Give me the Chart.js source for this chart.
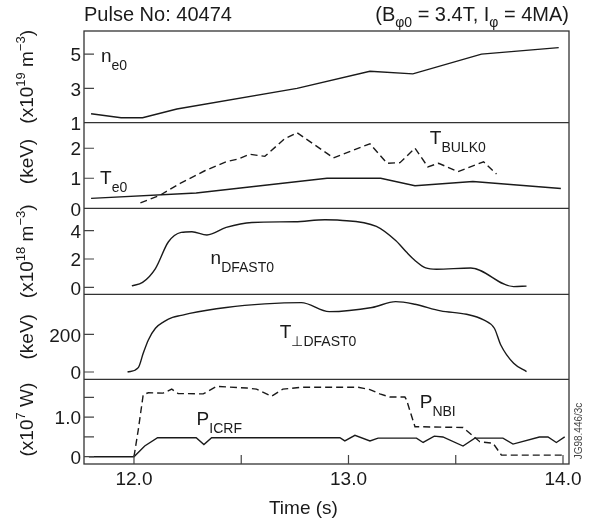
<!DOCTYPE html>
<html>
<head>
<meta charset="utf-8">
<script src="https://cdn.jsdelivr.net/npm/chart.js@4/dist/chart.umd.min.js"></script>
<style>
  html, body { margin: 0; padding: 0; background: #fff; }
  canvas { display: block; }
</style>
</head>
<body>
<canvas id="pulse" width="592" height="526"></canvas>
<script>
// central electron density (x10^19 m^-3)
const neTime = [11.80, 11.94, 12.04, 12.20, 12.76, 13.10, 13.30, 13.62, 13.98];
const neVal  = [1.52, 1.29, 1.29, 1.80, 3.00, 4.00, 3.85, 5.00, 5.38];

// central electron temperature (keV)
const teTime = [11.80, 12.29, 12.90, 13.15, 13.31, 13.58, 13.99];
const teVal  = [0.33, 0.51, 1.00, 1.00, 0.75, 0.89, 0.66];

// bulk ion temperature (keV), dashed
const bulkTime = [12.03, 12.12, 12.22, 12.33, 12.43, 12.49, 12.54, 12.61, 12.70, 12.76, 12.93, 13.10, 13.18, 13.24, 13.31, 13.37, 13.42, 13.51, 13.63, 13.69];
const bulkVal  = [0.18, 0.43, 0.85, 1.25, 1.55, 1.65, 1.80, 1.73, 2.30, 2.52, 1.68, 2.15, 1.50, 1.52, 2.00, 1.38, 1.50, 1.22, 1.55, 1.14];

// fast deuterium density (x10^18 m^-3)
const ndTime = [11.99, 12.04, 12.10, 12.16, 12.22, 12.27, 12.34, 12.43, 12.55, 12.75, 12.89, 12.96, 13.13, 13.22, 13.27, 13.31, 13.36, 13.41, 13.57, 13.77, 13.83];
const ndVal  = [0.10, 0.35, 1.33, 3.20, 3.88, 3.93, 3.70, 4.23, 4.58, 4.63, 4.77, 4.74, 4.30, 3.30, 2.49, 1.90, 1.37, 1.28, 1.37, 0.05, 0.09];

// perpendicular fast deuterium temperature (keV)
const tpTime = [11.97, 12.02, 12.043, 12.067, 12.10, 12.14, 12.18, 12.22, 12.26, 12.43, 12.61, 12.78, 12.91, 13.11, 13.22, 13.31, 13.43, 13.55, 13.63, 13.68, 13.71, 13.77, 13.83];
const tpVal  = [0, 23, 99, 170, 232, 267, 290, 300, 311, 342, 361, 368, 320, 342, 373, 359, 324, 306, 276, 232, 143, 46, 2];

// heating powers (x10^7 W)
const icrfTime = [11.79, 12.00, 12.05, 12.11, 12.29, 12.326, 12.362, 12.96, 12.983, 13.03, 13.10, 13.138, 13.317, 13.348, 13.40, 13.44, 13.534, 13.589, 13.72, 13.767, 13.89, 13.93, 13.969, 14.008];
const icrfVal  = [0, 0, 0.27, 0.48, 0.48, 0.31, 0.48, 0.48, 0.40, 0.54, 0.40, 0.47, 0.47, 0.36, 0.52, 0.50, 0.27, 0.47, 0.47, 0.32, 0.50, 0.50, 0.36, 0.50];
const nbiTime = [12.00, 12.02, 12.043, 12.067, 12.136, 12.176, 12.206, 12.323, 12.385, 12.525, 12.571, 12.641, 12.694, 12.782, 13.045, 13.10, 13.146, 13.193, 13.263, 13.27, 13.29, 13.31, 13.534, 13.612, 13.674, 13.713, 14.00];
const nbiVal  = [0, 0.68, 1.57, 1.62, 1.61, 1.71, 1.60, 1.59, 1.78, 1.74, 1.71, 1.53, 1.71, 1.76, 1.76, 1.70, 1.59, 1.51, 1.51, 1.45, 1.10, 0.76, 0.74, 0.38, 0.34, 0.04, 0.04];

// tick values
const timeTicks = [12.0, 12.5, 13.0, 13.5, 14.0];
const neTicks = [1, 3, 5];
const teTicks = [0, 1, 2];
const ndTicks = [0, 2, 4];
const tpTicks = [0, 200];
const powTicks = [0, 0.5, 1.0, 1.5];

const FONT = '"Liberation Sans", Arial, Helvetica, sans-serif';
const INK = '#1a1a1a';

const pts = (xs, ys) => xs.map((x, i) => ({x: x, y: ys[i]}));

function line(data, axis, dashed, smooth) {
  return {
    data: data,
    yAxisID: axis,
    borderColor: INK,
    borderWidth: 1.4,
    borderDash: dashed ? [7, 4] : [],
    pointRadius: 0,
    fill: false,
    tension: 0,
    cubicInterpolationMode: smooth ? 'monotone' : 'default'
  };
}

function yAxis(min, max, ticks, order, share, fmt) {
  return {
    type: 'linear',
    position: 'left',
    stack: 'panels',
    stackWeight: share,
    weight: order,
    min: min,
    max: max,
    grid: { display: false, drawTicks: false },
    border: { display: false },
    afterBuildTicks: s => { s.ticks = ticks.map(v => ({value: v})); },
    afterFit: s => { s.width = 84; },
    ticks: {
      autoSkip: false,
      padding: 3,
      labelOffset: 2,
      color: INK,
      font: { family: FONT, size: 19 },
      callback: fmt || (v => String(v))
    }
  };
}

// rich text with sub / superscripts
function rich(ctx, x, y, parts, align) {
  let w = 0;
  for (const p of parts) { ctx.font = p[1] + 'px ' + FONT; w += ctx.measureText(p[0]).width; }
  let cx = align === 'center' ? x - w / 2 : align === 'right' ? x - w : x;
  for (const p of parts) {
    ctx.font = p[1] + 'px ' + FONT;
    ctx.fillText(p[0], cx, y + (p[2] || 0));
    cx += ctx.measureText(p[0]).width;
  }
}

const yTitles = [
  ['yN',  [['(x10', 19], ['19', 13, -8], [' m', 19], ['\u22123', 13, -8], [')', 19]], 0],
  ['yTe', [['(keV)', 19]], -4],
  ['yND', [['(x10', 19], ['18', 13, -8], [' m', 19], ['\u22123', 13, -8], [')', 19]], 0],
  ['yT',  [['(keV)', 19]], 0],
  ['yP',  [['(x10', 19], ['7', 13, -8], [' W)', 19]], -2]
];

// curve labels anchored in data coordinates: axis, time, value, main, subscript
const curveLabels = [
  ['yN', 11.846, 4.54, 'n', 'e0'],
  ['yTe', 11.842, 0.81, 'T', 'e0'],
  ['yTe', 13.379, 2.13, 'T', 'BULK0'],
  ['yND', 12.357, 1.63, 'n', 'DFAST0'],
  ['yT', 12.68, 182, 'T', '\u22A5DFAST0'],
  ['yP', 12.292, 0.80, 'P', 'ICRF'],
  ['yP', 13.332, 1.23, 'P', 'NBI']
];

const decorations = {
  id: 'decorations',
  afterDraw(chart) {
    const ctx = chart.ctx;
    const a = chart.chartArea;
    const x = chart.scales.x;
    const panels = ['yN', 'yTe', 'yND', 'yT', 'yP'].map(k => chart.scales[k]);
    ctx.save();

    // frame and panel separators
    ctx.strokeStyle = '#333';
    ctx.lineWidth = 1.3;
    ctx.strokeRect(a.left, a.top, a.right - a.left, a.bottom - a.top);
    ctx.beginPath();
    panels.slice(0, 4).forEach(s => { ctx.moveTo(a.left, s.bottom); ctx.lineTo(a.right, s.bottom); });
    ctx.stroke();

    // inward tick marks
    ctx.strokeStyle = '#444';
    ctx.lineWidth = 1.2;
    ctx.beginPath();
    panels.forEach(s => {
      s.ticks.forEach(t => {
        if (t.value <= s.min) return;
        const py = s.getPixelForValue(t.value);
        ctx.moveTo(a.left, py); ctx.lineTo(a.left + 10, py);
      });
    });
    x.ticks.forEach(t => {
      const px = x.getPixelForValue(t.value);
      ctx.moveTo(px, a.bottom); ctx.lineTo(px, a.bottom - 9);
    });
    ctx.stroke();

    ctx.fillStyle = INK;
    ctx.textBaseline = 'alphabetic';
    ctx.textAlign = 'left';

    // header
    rich(ctx, a.left, 21, [['Pulse No: 40474', 20]], 'left');
    rich(ctx, a.right, 21, [['(B', 20], ['\u03C60', 14, 6], [' = 3.4T, I', 20], ['\u03C6', 14, 6], [' = 4MA)', 20]], 'right');

    // y titles, rotated
    yTitles.forEach(([k, parts, shift]) => {
      const s = chart.scales[k];
      ctx.save();
      ctx.translate(32.5, (s.top + s.bottom) / 2 + shift);
      ctx.rotate(-Math.PI / 2);
      rich(ctx, 0, 0, parts, 'center');
      ctx.restore();
    });

    // curve labels
    curveLabels.forEach(([k, t, v, main, sub]) => {
      const px = x.getPixelForValue(t);
      const py = chart.scales[k].getPixelForValue(v);
      rich(ctx, px, py, [[main, 19], [sub, 14, 8]], 'left');
    });

    // x title
    rich(ctx, x.getPixelForValue(12.79), 514, [['Time (s)', 19]], 'center');

    // figure reference
    ctx.save();
    ctx.translate(579, 431);
    ctx.rotate(-Math.PI / 2);
    ctx.font = '10px ' + FONT;
    ctx.fillStyle = '#444';
    ctx.textAlign = 'center';
    ctx.textBaseline = 'middle';
    ctx.fillText('JG98.446/3c', 0, 0);
    ctx.restore();

    ctx.restore();
  }
};

new Chart(document.getElementById('pulse').getContext('2d'), {
  type: 'line',
  data: {
    datasets: [
      line(pts(neTime, neVal), 'yN', false, false),
      line(pts(teTime, teVal), 'yTe', false, false),
      line(pts(bulkTime, bulkVal), 'yTe', true, false),
      line(pts(ndTime, ndVal), 'yND', false, true),
      line(pts(tpTime, tpVal), 'yT', false, true),
      line(pts(icrfTime, icrfVal), 'yP', false, false),
      line(pts(nbiTime, nbiVal), 'yP', true, false)
    ]
  },
  options: {
    responsive: false,
    devicePixelRatio: 1,
    animation: false,
    layout: { padding: { top: 31, right: 23, bottom: 0, left: 0 } },
    plugins: { legend: { display: false }, tooltip: { enabled: false } },
    scales: {
      x: {
        type: 'linear',
        position: 'bottom',
        min: 11.767,
        max: 14.028,
        grid: { display: false, drawTicks: false },
        border: { display: false },
        afterBuildTicks: s => { s.ticks = timeTicks.map(v => ({value: v})); },
        afterFit: s => { s.height = 62; },
        ticks: {
          autoSkip: false,
          maxRotation: 0,
          padding: 4,
          color: INK,
          font: { family: FONT, size: 19 },
          callback: v => (v % 1 === 0 ? v.toFixed(1) : '')
        }
      },
      yN: yAxis(1, 6.35, neTicks, 5, 91.7),
      yTe: yAxis(0, 2.85, teTicks, 4, 85.6),
      yND: yAxis(-0.49, 5.58, ndTicks, 3, 86),
      yT: yAxis(-38.7, 412, tpTicks, 2, 85),
      yP: yAxis(-0.185, 1.96, powTicks, 1, 84.7, v => (v === 0 ? '0' : v === 1 ? '1.0' : ''))
    }
  },
  plugins: [decorations]
});
</script>
</body>
</html>
